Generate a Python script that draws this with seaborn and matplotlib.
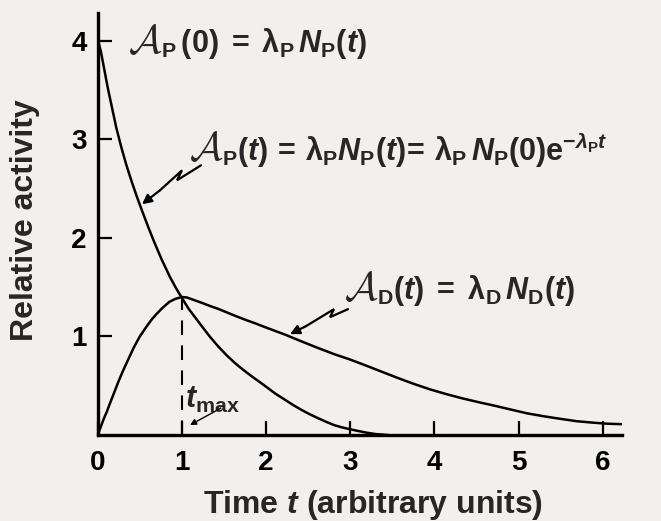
import numpy as np
import pandas as pd
import seaborn as sns
import matplotlib
matplotlib.use("Agg")
import matplotlib.pyplot as plt

# values
parent_t = [0.0, 0.04, 0.08, 0.12, 0.16, 0.22, 0.28, 0.34, 0.40, 0.46, 0.52, 0.60,
            0.67, 0.76, 0.86, 0.93, 1.00, 1.08, 1.16, 1.24, 1.33, 1.43, 1.53, 1.63,
            1.73, 1.83, 1.92, 2.00, 2.11, 2.22, 2.32, 2.42, 2.52, 2.62, 2.71, 2.81,
            2.90, 3.00, 3.10, 3.20, 3.30, 3.45]
parent_a = [4.02, 3.88, 3.70, 3.52, 3.36, 3.12, 2.92, 2.74, 2.58, 2.43, 2.29, 2.11,
            1.96, 1.78, 1.60, 1.49, 1.39, 1.28, 1.19, 1.10, 1.00, 0.90, 0.81, 0.73,
            0.66, 0.595, 0.54, 0.49, 0.42, 0.36, 0.305, 0.255, 0.21, 0.17, 0.135, 0.10,
            0.078, 0.058, 0.04, 0.023, 0.01, 0.0]

daughter_t = [0.0, 0.035, 0.07, 0.11, 0.145, 0.20, 0.25, 0.30, 0.37, 0.43, 0.50, 0.58,
              0.64, 0.69, 0.77, 0.85, 0.92, 1.00, 1.06, 1.14, 1.24, 1.33, 1.43, 1.53,
              1.63, 1.75, 1.88, 2.00, 2.11, 2.22, 2.32, 2.42, 2.61, 2.81, 3.00, 3.20,
              3.38, 3.56, 3.75, 3.94, 4.14, 4.34, 4.54, 4.70, 4.90, 5.10, 5.30, 5.49,
              5.69, 5.89, 6.05, 6.23]
daughter_a = [0.0, 0.08, 0.16, 0.24, 0.32, 0.44, 0.55, 0.65, 0.78, 0.89, 1.00, 1.10,
              1.17, 1.22, 1.29, 1.35, 1.38, 1.40, 1.395, 1.37, 1.34, 1.31, 1.28, 1.245,
              1.21, 1.17, 1.13, 1.09, 1.055, 1.02, 0.985, 0.95, 0.885, 0.82, 0.765, 0.70,
              0.64, 0.58, 0.52, 0.465, 0.415, 0.37, 0.33, 0.30, 0.26, 0.22, 0.19, 0.165,
              0.14, 0.125, 0.115, 0.11]

t_max = 1.0
peak_a = 1.40

x_ticks = [0, 1, 2, 3, 4, 5, 6]
y_ticks = [1, 2, 3, 4]

BG = "#f3efec"

sns.set_theme(style="ticks")
plt.rcParams["font.family"] = ["Liberation Sans", "DejaVu Sans"]
plt.rcParams["font.weight"] = "bold"
plt.rcParams["mathtext.fontset"] = "custom"
plt.rcParams["mathtext.rm"] = "Liberation Sans:bold"
plt.rcParams["mathtext.bf"] = "Liberation Sans:bold"
plt.rcParams["mathtext.it"] = "Liberation Sans:italic:bold"
plt.rcParams["mathtext.sf"] = "Liberation Sans"
plt.rcParams["mathtext.cal"] = "cmsy10"

df = pd.concat([
    pd.DataFrame({"t": parent_t, "a": parent_a, "nuclide": "parent"}),
    pd.DataFrame({"t": daughter_t, "a": daughter_a, "nuclide": "daughter"}),
])

fig = plt.figure(figsize=(6.61, 5.21), dpi=100, facecolor=BG)
ax = fig.add_axes([0.1478, 0.165, 0.7936, 0.81])
ax.set_facecolor(BG)

sns.lineplot(data=df, x="t", y="a", units="nuclide", estimator=None, sort=False,
             color="black", lw=1.8, ax=ax, legend=False)
ax.plot([t_max, t_max], [0, peak_a], color="black", lw=1.5, dashes=(7, 5))

ax.set_xlim(0, 6.23)
ax.set_ylim(0, 4.28)
ax.set_xticks(x_ticks)
ax.set_yticks(y_ticks)
for s in ["top", "right"]:
    ax.spines[s].set_visible(False)
for s in ["left", "bottom"]:
    ax.spines[s].set_linewidth(2.4)
    ax.spines[s].set_color("black")
ax.tick_params(direction="in", length=10, width=1.6, colors="black", labelsize=20)
ax.tick_params(axis="x", pad=11)
ax.tick_params(axis="y", pad=8)
for lab in ax.get_xticklabels() + ax.get_yticklabels():
    lab.set_fontweight("bold")

ax.set_xlabel("Time $t$ (arbitrary units)", fontsize=23, fontweight="bold")
ax.set_ylabel("Relative activity", fontsize=23, fontweight="bold")
ax.xaxis.set_label_coords(0.525, -0.166)
ax.yaxis.set_label_coords(-0.139, 0.509)
ax.xaxis.label.set_va("center")
ax.yaxis.label.set_va("center")

fs = 22


def formula(x, y, rest):
    # big script A, then the rest of the expression glued to its right edge
    a = ax.text(x, y, r"$\mathcal{A}$", fontsize=29, va="center", ha="left")
    ax.annotate(rest, xy=(1, 0.5), xycoords=a, xytext=(-1, -1), textcoords="offset points",
                fontsize=fs, va="center", ha="left")


formula(0.36, 3.99, r"${}_\mathrm{P}\,(0)\;=\;\mathrm{\lambda}_\mathrm{P}\,N_\mathrm{P}(t)$")
formula(1.09, 2.90, r"${}_\mathrm{P}(t)\,=\,\mathrm{\lambda}_\mathrm{P}N_\mathrm{P}(t)\!=\,"
        r"\mathrm{\lambda}_\mathrm{P}\,N_\mathrm{P}(0)\mathrm{e}^{-\lambda_\mathrm{P}t}$")
formula(2.93, 1.48, r"${}_\mathrm{D}(t)\;=\;\mathrm{\lambda}_\mathrm{D}\,N_\mathrm{D}(t)$")
ax.text(1.04, 0.36, r"$t_{\mathsf{max}}$", fontsize=fs, va="center", ha="left")


def px(x, y):
    return ((x - 97.7) / 84.2, (435 - y) / 98.7)


def zigzag(points, tip):
    xs, ys = zip(*[px(*p) for p in points])
    ax.plot(xs, ys, color="black", lw=1.6, solid_joinstyle="miter")
    ax.annotate("", xy=px(*tip), xytext=(xs[-1], ys[-1]),
                arrowprops=dict(arrowstyle="-|>", color="black", lw=1.6,
                                mutation_scale=14, shrinkA=0, shrinkB=0))


zigzag([(201, 165), (177, 180), (182, 170), (160, 190)], (142, 204))
zigzag([(348, 309), (330, 317), (334, 309), (306, 326)], (290, 334))
ax.annotate("", xy=px(190, 425), xytext=px(221, 408),
            arrowprops=dict(arrowstyle="-|>", color="black", lw=1.0,
                            mutation_scale=9, shrinkA=0, shrinkB=0))

fig.savefig("out.png", dpi=100, facecolor=BG)
